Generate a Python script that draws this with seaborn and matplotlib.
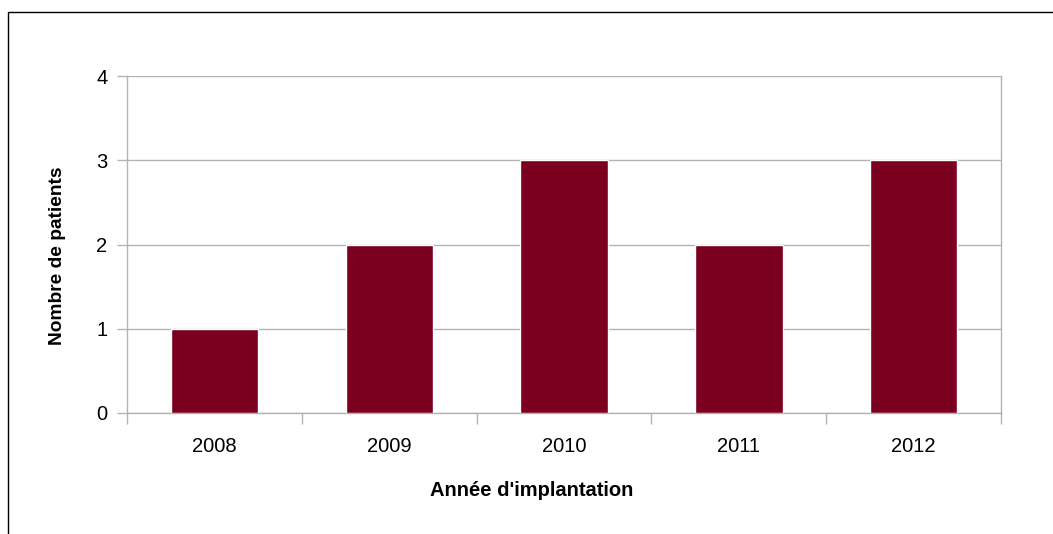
import matplotlib
matplotlib.use("Agg")
import matplotlib.pyplot as plt
from matplotlib.patches import Rectangle
import seaborn as sns
import pandas as pd

# DATA
years = ["2008", "2009", "2010", "2011", "2012"]
patients = [1, 2, 3, 2, 3]

df = pd.DataFrame({"annee": years, "patients": patients})

sns.set_style("white")
plt.rcParams["font.family"] = ["Liberation Sans", "DejaVu Sans"]
plt.rcParams["text.color"] = "black"
plt.rcParams["xtick.labelcolor"] = "black"
plt.rcParams["ytick.labelcolor"] = "black"
plt.rcParams["axes.labelcolor"] = "black"

grey = "#b3b3b3"
fs = 14.5

fig = plt.figure(figsize=(10.53, 5.34), dpi=100)
ax = fig.add_axes([127 / 1053, 1 - 413 / 534, 874 / 1053, 337 / 534])

sns.barplot(data=df, x="annee", y="patients", color="#7b0020",
            width=0.5, saturation=1, ax=ax, zorder=3)

ax.set_xlim(-0.5, 4.5)
ax.set_ylim(0, 4)
ax.set_yticks([0, 1, 2, 3, 4])
ax.yaxis.grid(True, color=grey, linewidth=1, zorder=0)
ax.set_axisbelow(True)

# x ticks between the categories
ax.set_xticks([-0.5, 0.5, 1.5, 2.5, 3.5, 4.5], minor=True)
ax.tick_params(axis="x", which="major", length=0, pad=17, labelsize=fs,
               labelcolor="black")
ax.tick_params(axis="x", which="minor", length=8, width=1, color=grey,
               direction="out", bottom=True)
ax.tick_params(axis="y", which="major", length=7.2, width=1, color=grey,
               direction="out", left=True, pad=7, labelsize=fs,
               labelcolor="black")

for side in ["left", "right", "bottom"]:
    ax.spines[side].set_color(grey)
    ax.spines[side].set_linewidth(1)
ax.spines["top"].set_visible(False)

ax.set_xlabel("Année d'implantation", fontsize=fs, fontweight="bold",
              va="center", color="black")
ax.set_ylabel("Nombre de patients", fontsize=13.8, fontweight="bold",
              va="center", ha="center", color="black")
ax.xaxis.set_label_coords((532 - 127) / 874, (413 - 491) / 337)
ax.yaxis.set_label_coords((58 - 127) / 874, (413 - 256) / 337)

# outer frame (only left and top edges visible)
fig.patches.append(Rectangle((8 / 1053, -0.2), 1.5, 1.2 - 12 / 534,
                             transform=fig.transFigure, fill=False,
                             edgecolor="black", linewidth=1))

fig.savefig("out.png", dpi=100)
